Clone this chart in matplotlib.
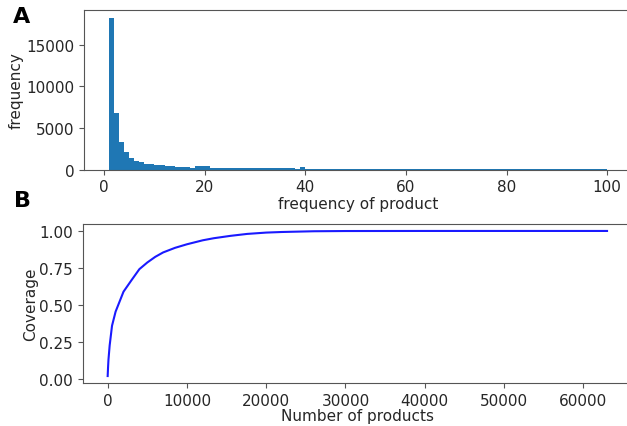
import matplotlib.pyplot as plt
import numpy as np

# histogram of product frequency (bins of width 1, from 1 to 100)
bin_edges = list(range(1, 101))
bin_counts = [18250, 6750, 3380, 2070, 1360, 1030, 880, 730, 700, 560,
              530, 500, 400, 370, 350, 340, 240, 420, 410, 400,
              260, 255, 250, 245, 240, 240, 235, 230, 225, 225,
              220, 215, 210, 210, 205, 200, 200, 120, 280, 125,
              124, 123, 122, 122, 121, 120, 120, 119, 118, 118,
              117, 117, 116, 116, 115, 115, 114, 114, 113, 113,
              112, 112, 111, 111, 110, 110, 109, 109, 108, 108,
              107, 107, 106, 106, 105, 105, 104, 104, 103, 103,
              102, 102, 101, 101, 100, 100, 100, 99, 99, 98,
              98, 98, 97, 97, 96, 96, 95, 95, 95]

# coverage curve
n_products = [0, 50, 100, 250, 550, 1000, 2000, 3000, 4000, 5000, 6000, 7000,
              8500, 10000, 12000, 13400, 15500, 17600, 20000, 22000, 26000,
              30000, 40000, 50000, 63000]
coverage = [0.02, 0.08, 0.13, 0.226, 0.36, 0.455, 0.59, 0.667, 0.742, 0.787,
            0.825, 0.855, 0.886, 0.91, 0.937, 0.951, 0.967, 0.98, 0.989,
            0.993, 0.998, 0.9995, 1.0, 1.0, 1.0]

fs = 11
plt.rcParams['font.family'] = ['DejaVu Sans']
plt.rcParams['font.size'] = fs
plt.rcParams['text.color'] = '#262626'
plt.rcParams['axes.labelcolor'] = '#262626'
plt.rcParams['xtick.color'] = '#555555'
plt.rcParams['ytick.color'] = '#555555'
plt.rcParams['xtick.labelcolor'] = '#262626'
plt.rcParams['ytick.labelcolor'] = '#262626'
plt.rcParams['axes.edgecolor'] = '#555555'

W, H = 627, 427
fig = plt.figure(figsize=(W / 100, H / 100), dpi=100)

ax1 = fig.add_axes([84.3 / W, 1 - 170.7 / H, (632 - 84.3) / W, (170.7 - 11) / H])
ax1.hist(bin_edges[:-1], bins=bin_edges, weights=bin_counts, color='#1f77b4')
ax1.set_xlabel('frequency of product', labelpad=1)
ax1.set_ylabel('frequency', labelpad=2)
ax1.set_xticks([0, 20, 40, 60, 80, 100])
ax1.set_yticks([0, 5000, 10000, 15000])

ax2 = fig.add_axes([82.7 / W, 1 - 384.3 / H, (632 - 82.7) / W, (384.3 - 224.7) / H])
ax2.plot(n_products, coverage, color='#1a1aff', lw=1.5)
ax2.set_xlabel('Number of products', labelpad=0)
ax2.set_ylabel('Coverage', labelpad=1)
ax2.set_xticks(np.arange(0, 60001, 10000))
ax2.set_yticks([0, 0.25, 0.5, 0.75, 1.0])

fig.text(22 / W, 1 - 17 / H, 'A', fontsize=16, fontweight='bold', ha='center', va='center', color='black')
fig.text(22 / W, 1 - 201 / H, 'B', fontsize=16, fontweight='bold', ha='center', va='center', color='black')

fig.savefig('out.png', dpi=100)
